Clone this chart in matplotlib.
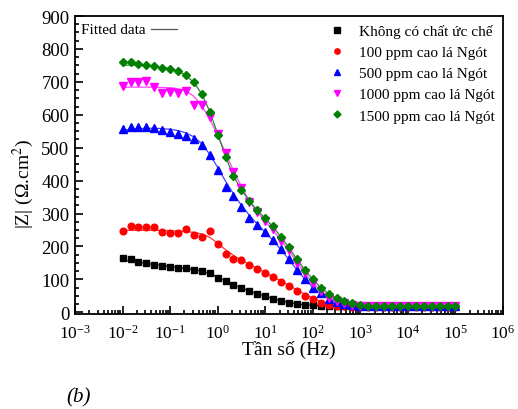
import numpy as np
import matplotlib
matplotlib.use('Agg')
import matplotlib.pyplot as plt
from matplotlib.ticker import LogLocator, MultipleLocator, NullFormatter
from matplotlib.lines import Line2D

plt.rcParams['font.family'] = ['Liberation Serif', 'DejaVu Serif']
plt.rcParams['mathtext.fontset'] = 'stix'

# frequencies (Hz), 6 points per decade
freq = [0.01, 0.0147, 0.0215, 0.0316, 0.0464, 0.0681,
        0.1, 0.147, 0.215, 0.316, 0.464, 0.681,
        1, 1.47, 2.15, 3.16, 4.64, 6.81,
        10, 14.7, 21.5, 31.6, 46.4, 68.1,
        100, 147, 215, 316, 464, 681,
        1000, 1470, 2150, 3160, 4640, 6810,
        10000, 14700, 21500, 31600, 46400, 68100,
        100000]

z_blank = [166, 161, 153, 149, 145, 142, 137, 136, 134, 129, 126, 118, 105, 94, 83,
           75, 65, 56, 49, 42, 35, 29, 25, 22, 21, 20, 19, 19, 19, 19,
           19, 19, 19, 19, 19, 19, 19, 19, 19, 19, 19, 19, 19]
z_100 = [247, 263, 258, 260, 260, 244, 240, 240, 252, 234, 229, 247, 207, 176, 161,
         160, 144, 131, 119, 107, 93, 80, 64, 50, 40, 29, 23, 20, 18, 17,
         16, 16, 16, 16, 16, 16, 16, 16, 16, 16, 16, 16, 16]
z_500 = [556, 562, 562, 564, 561, 554, 549, 542, 536, 525, 509, 477, 432, 382, 354,
         319, 287, 265, 245, 220, 191, 161, 129, 102, 75, 58, 42, 31, 24, 21,
         19, 18, 18, 18, 18, 18, 18, 18, 18, 18, 18, 18, 18]
z_1000 = [688, 701, 701, 702, 685, 665, 670, 666, 671, 631, 629, 594, 541, 484, 427,
          378, 335, 304, 277, 252, 217, 189, 151, 118, 90, 65, 45, 34, 27, 21,
          19, 18, 18, 18, 18, 18, 18, 18, 18, 18, 18, 18, 18]
z_1500 = [761, 759, 753, 750, 747, 743, 739, 732, 720, 700, 664, 607, 540, 472, 413,
          373, 339, 310, 287, 261, 230, 197, 161, 129, 100, 75, 55, 45, 34, 27,
          22, 20, 19, 19, 19, 19, 19, 19, 19, 19, 19, 19, 19]

# fitted curves
fit_blank = [159, 156, 153, 149, 145, 142, 139, 136, 133, 130, 125, 118, 107, 95, 84,
             74, 65, 57, 49, 42, 35, 30, 26, 23, 21, 20, 19, 19, 19, 19,
             19, 19, 19, 19, 19, 19, 19, 19, 19, 19, 19, 19, 19]
fit_100 = [248, 249, 249, 249, 249, 249, 248, 247, 245, 243, 238, 228, 210, 190, 173,
           158, 146, 133, 121, 108, 95, 82, 68, 55, 43, 33, 25, 20, 17, 16,
           15, 15, 15, 15, 15, 15, 15, 15, 15, 15, 15, 15, 15]
fit_500 = [553, 556, 558, 559, 559, 558, 556, 552, 545, 533, 512, 480, 440, 398, 360,
           325, 295, 268, 243, 218, 190, 160, 129, 101, 76, 56, 41, 30, 24, 20,
           18, 17, 17, 17, 17, 17, 17, 17, 17, 17, 17, 17, 17]
fit_1000 = [683, 684, 684, 684, 684, 683, 682, 679, 672, 656, 627, 588, 538, 484, 430,
            382, 338, 304, 276, 249, 218, 187, 152, 119, 90, 66, 47, 34, 26, 21,
            19, 18, 18, 18, 18, 18, 18, 18, 18, 18, 18, 18, 18]
fit_1500 = [750, 751, 750, 749, 747, 744, 740, 733, 720, 698, 663, 610, 542, 472, 414,
            372, 338, 310, 285, 259, 229, 196, 161, 129, 100, 75, 56, 43, 32, 25,
            21, 19, 18, 18, 18, 18, 18, 18, 18, 18, 18, 18, 18]

labels = ['Không có chất ức chế', '100 ppm cao lá Ngót', '500 ppm cao lá Ngót',
          '1000 ppm cao lá Ngót', '1500 ppm cao lá Ngót']
colors = ['black', 'red', 'blue', 'magenta', 'green']
fit_colors = ['#222222', '#ff3333', '#4444ff', '#ff44ff', '#2a8a2a']
markers = ['s', 'o', '^', 'v', 'D']
msizes = [4.6, 4.8, 5.4, 5.4, 4.4]

fig = plt.figure(figsize=(5.18, 4.10), dpi=100)
ax = fig.add_axes([75 / 518, 1 - 315 / 410, 428 / 518, 298 / 410])

data = [z_blank, z_100, z_500, z_1000, z_1500]
fits = [fit_blank, fit_100, fit_500, fit_1000, fit_1500]
for z, fz, lab, c, fc, m, ms in zip(data, fits, labels, colors, fit_colors, markers, msizes):
    ax.plot(freq, fz, '-', color=fc, lw=0.9, zorder=2)
    ax.plot(freq, z, linestyle='none', marker=m, color=c, ms=ms, mec=c, label=lab, zorder=3)

ax.set_xscale('log')
ax.set_xlim(1e-3, 1e6)
ax.set_ylim(-5, 900)
ax.xaxis.set_major_locator(LogLocator(base=10, numticks=12))
ax.xaxis.set_minor_locator(LogLocator(base=10, subs=np.arange(2, 10), numticks=12))
ax.xaxis.set_minor_formatter(NullFormatter())
ax.yaxis.set_major_locator(MultipleLocator(100))
ax.yaxis.set_minor_locator(MultipleLocator(25))
ax.tick_params(which='both', direction='in', top=False, right=False, width=1.2)
ax.tick_params(axis='y', labelsize=13.5, pad=4)
ax.tick_params(axis='x', labelsize=12.5, pad=7)
ax.tick_params(which='major', length=6)
ax.tick_params(which='minor', length=3)
for s in ax.spines.values():
    s.set_linewidth(1.3)

ax.set_xlabel('Tần số (Hz)', fontsize=14, labelpad=-1)
ax.set_ylabel('|Z| (Ω.cm$^2$)', fontsize=14)
ax.yaxis.set_label_coords(-0.092, 0.44)

leg = ax.legend(loc='upper right', bbox_to_anchor=(1.0, 1.0), frameon=False, fontsize=11,
                handlelength=0.8, handletextpad=1.0, labelspacing=0.48, markerscale=0.8,
                borderaxespad=0.15)

# "Fitted data" key in the top-left corner
ax.text(0.015, 0.955, 'Fitted data', transform=ax.transAxes, fontsize=11, va='center', ha='left')
ax.add_line(Line2D([0.178, 0.238], [0.955, 0.955], transform=ax.transAxes, color='#555555', lw=0.9))

fig.text(66 / 518, 1 - 398 / 410, '(b)', fontsize=15, style='italic', va='center', ha='left')

fig.savefig('out.png', dpi=100)
